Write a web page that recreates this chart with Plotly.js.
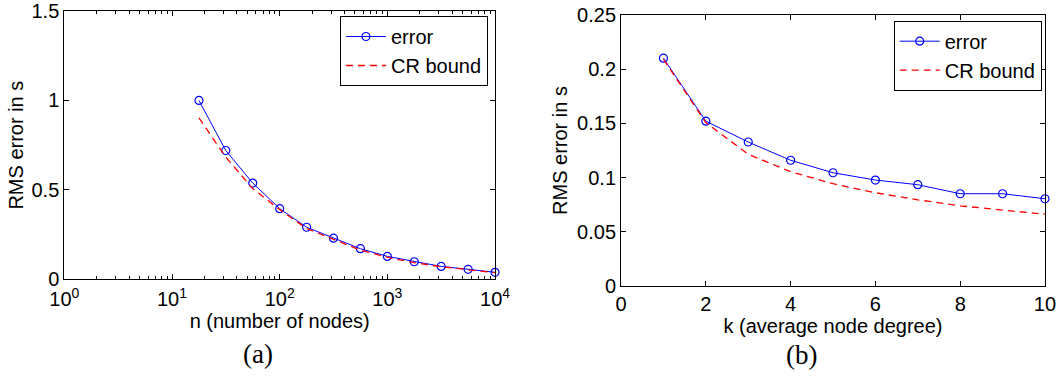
<!DOCTYPE html>
<html>
<head>
<meta charset="utf-8">
<script src="https://cdn.plot.ly/plotly-3.0.1.min.js"></script>
<style>html,body{margin:0;padding:0;background:#fff;}#chart{width:1058px;height:376px;}</style>
</head>
<body>
<div id="chart"></div>
<script>
// (a) RMS error vs number of nodes
const nNodes = [17.8, 31.6, 56.2, 100, 178, 316, 562, 1000, 1778, 3162, 5623, 10000];
const errN   = [1.0, 0.72, 0.538, 0.395, 0.291, 0.230, 0.171, 0.128, 0.098, 0.072, 0.056, 0.039];
const crN    = [0.902, 0.683, 0.507, 0.39, 0.284, 0.223, 0.163, 0.123, 0.093, 0.070, 0.052, 0.037];

// (b) RMS error vs average node degree
const kDeg = [1, 2, 3, 4, 5, 6, 7, 8, 9, 10];
const errK = [0.210, 0.152, 0.1328, 0.116, 0.1045, 0.0978, 0.0935, 0.0852, 0.0852, 0.0806];
const crK  = [0.209, 0.1507, 0.1215, 0.1055, 0.0944, 0.0861, 0.0796, 0.0741, 0.0701, 0.0664];

// tick labels
const logTickVals = [1, 10, 100, 1000, 10000];
const logTickText = ['10<sup>0</sup>', '10<sup>1</sup>', '10<sup>2</sup>', '10<sup>3</sup>', '10<sup>4</sup>'];
const seriesNames = ['error', 'CR bound'];
const xTitles = ['n (number of nodes)', 'k (average node degree)'];
const yTitle = 'RMS error in s';
const captions = ['(a)', '(b)'];

const minorLog = [];
for (let d = 1; d < 10000; d *= 10) for (let m = 2; m <= 9; m++) minorLog.push(d * m);

const FONT = 'Liberation Sans, Arial, sans-serif';
const FS = 20;
const BLUE = '#0000ff', RED = '#ff0000';

const errStyle = {mode: 'lines+markers', line: {color: BLUE, width: 1},
  marker: {symbol: 'circle-open', size: 8, color: BLUE, line: {width: 1.2, color: BLUE}}, cliponaxis: false};
const crStyle = {mode: 'lines', line: {color: RED, width: 1.3, dash: '7px,5px'}};

const data = [
  Object.assign({x: nNodes, y: errN, name: seriesNames[0], xaxis: 'x', yaxis: 'y', legend: 'legend'}, errStyle),
  Object.assign({x: nNodes, y: crN, name: seriesNames[1], xaxis: 'x', yaxis: 'y', legend: 'legend'}, crStyle),
  Object.assign({x: kDeg, y: errK, name: seriesNames[0], xaxis: 'x2', yaxis: 'y2', legend: 'legend2'}, errStyle),
  Object.assign({x: kDeg, y: crK, name: seriesNames[1], xaxis: 'x2', yaxis: 'y2', legend: 'legend2'}, crStyle)
];

const axBase = {showline: true, linecolor: '#000', linewidth: 1, mirror: 'ticks', ticks: 'inside',
  ticklen: 5, tickcolor: '#000', showgrid: false, zeroline: false,
  tickfont: {family: FONT, size: FS, color: '#000'}};

const legBase = {bgcolor: '#fff', bordercolor: '#000', borderwidth: 1,
  font: {family: FONT, size: FS, color: '#000'}, xanchor: 'right', yanchor: 'top',
  tracegroupgap: 0, itemwidth: 40};

const layout = {
  width: 1058, height: 376, margin: {l: 0, r: 0, t: 0, b: 0},
  paper_bgcolor: '#fff', plot_bgcolor: '#fff', showlegend: true,
  xaxis: Object.assign({}, axBase, {type: 'log', domain: [0.0608, 0.4679], range: [0, 4], anchor: 'y',
    tickmode: 'array', tickvals: logTickVals, ticktext: logTickText, ticklabelstandoff: 2,
    minor: {tickmode: 'array', tickvals: minorLog, ticks: 'inside', ticklen: 3, tickcolor: '#000', showgrid: false},
    title: {text: xTitles[0], font: {family: FONT, size: FS, color: '#000'}, standoff: 4}}),
  yaxis: Object.assign({}, axBase, {domain: [0.2572, 0.9707], range: [0, 1.5], dtick: 0.5, anchor: 'x',
    title: {text: yTitle, font: {family: FONT, size: FS, color: '#000'}, standoff: 2}}),
  xaxis2: Object.assign({}, axBase, {domain: [0.5870, 0.9877], range: [0, 10], dtick: 2, anchor: 'y2',
    title: {text: xTitles[1], font: {family: FONT, size: FS, color: '#000'}, standoff: 4}}),
  yaxis2: Object.assign({}, axBase, {domain: [0.2386, 0.9609], range: [0, 0.25], dtick: 0.05, anchor: 'x2',
    title: {text: yTitle, font: {family: FONT, size: FS, color: '#000'}, standoff: 4}}),
  legend: Object.assign({}, legBase, {x: 0.4612, y: 0.9574}),
  legend2: Object.assign({}, legBase, {x: 0.9846, y: 0.945}),
  annotations: [
    {text: captions[0], xref: 'paper', yref: 'paper', x: 257.5 / 1058, y: 1 - 354 / 376, xanchor: 'center', yanchor: 'middle',
     showarrow: false, font: {family: 'Liberation Serif, DejaVu Serif, serif', size: 27, color: '#000'}},
    {text: captions[1], xref: 'paper', yref: 'paper', x: 801.7 / 1058, y: 1 - 355 / 376, xanchor: 'center', yanchor: 'middle',
     showarrow: false, font: {family: 'Liberation Serif, DejaVu Serif, serif', size: 27, color: '#000'}}
  ]
};

Plotly.newPlot('chart', data, layout, {staticPlot: true, displayModeBar: false});
</script>
</body>
</html>
